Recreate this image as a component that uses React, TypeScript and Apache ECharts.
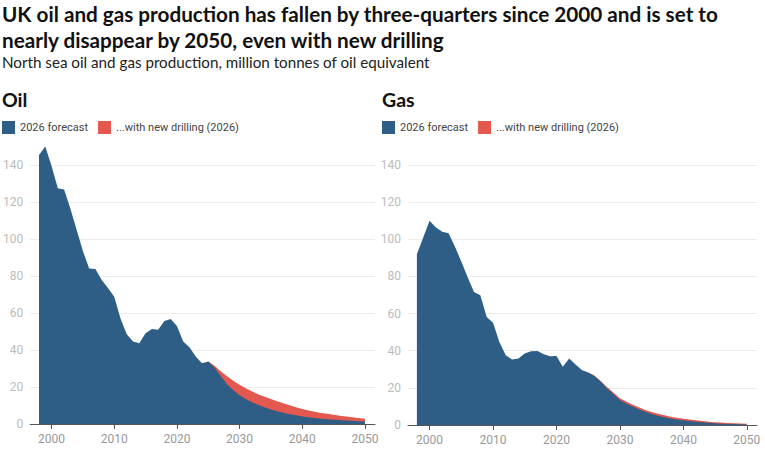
import { useEffect, useRef } from 'react';
import * as echarts from 'echarts';

const BLUE = '#2e5e86';
const RED = '#e4594f';

const FORECAST = '2026 forecast';
const DRILLING = '...with new drilling (2026)';

// 1998..2050
const years = Array.from({ length: 53 }, (_, i) => 1998 + i);
// 2025..2050
const drillYears = Array.from({ length: 26 }, (_, i) => 2025 + i);

const oilForecast = [
  145.4, 150, 139.5, 127.5, 126.8, 116.5, 105, 93.5, 84, 83.8, 77.8, 73.5, 68.8, 57,
  48.5, 44.6, 43.7, 49, 51.4, 50.9, 55.7, 56.8, 53, 44.6, 41.5, 36.5, 32.9, 33.8,
  30.5, 26, 21.5, 18.2, 15.5, 13.5, 11.8, 10.3, 9, 7.9, 6.9, 6.1, 5.3, 4.7, 4.1,
  3.6, 3.2, 2.9, 2.6, 2.3, 2.1, 1.9, 1.7, 1.5, 1.4,
];
const oilDrilling = [
  33.8, 31.5, 28.5, 25.8, 23.4, 21.2, 19.3, 17.6, 16.0, 14.7, 13.5, 12.3, 11.2,
  10.1, 9.1, 8.1, 7.3, 6.6, 6.0, 5.5, 5.0, 4.5, 4.0, 3.6, 3.2, 2.9,
];

const gasForecast = [
  92, 101, 110, 106.4, 104, 103.2, 96, 88, 79.5, 71.6, 69.8, 58.1, 55, 44.7, 37.6,
  35.3, 35.8, 38.5, 39.7, 39.9, 38.1, 37, 37.2, 31.3, 35.8, 32.6, 29.6, 28.3,
  26.4, 23.3, 19.7, 16.5, 13.4, 11.6, 9.9, 8.5, 7.1, 5.9, 5.0, 4.2, 3.5, 3.0, 2.6,
  2.2, 1.8, 1.5, 1.2, 0.9, 0.7, 0.6, 0.5, 0.4, 0.3,
];
const gasDrilling = [
  28.3, 26.5, 23.6, 20.3, 17.3, 14.4, 12.6, 10.9, 9.5, 8.1, 7.0, 6.0, 5.2, 4.5,
  3.9, 3.4, 2.9, 2.5, 2.1, 1.8, 1.5, 1.3, 1.1, 0.9, 0.8, 0.7,
];

const xTicks = [2000, 2010, 2020, 2030, 2040, 2050];

const TITLE =
  'UK oil and gas production has fallen by three-quarters since 2000 and is set to\nnearly disappear by 2050, even with new drilling';
const SUBTITLE = 'North sea oil and gas production, million tonnes of oil equivalent';

const HEAD_FONT = 'Lato';

const makeX = (gridIndex: number) => ({
  type: 'value' as const,
  gridIndex,
  min: 1996.6,
  max: 2051.6,
  axisLine: { lineStyle: { color: '#555', width: 1 } },
  axisTick: { show: true, length: 5, lineStyle: { color: '#555' }, customValues: xTicks },
  axisLabel: {
    customValues: xTicks,
    formatter: (v: number) => String(v),
    color: '#999',
    fontSize: 12,
    fontFamily: 'Roboto',
    margin: 9,
  },
  splitLine: { show: false },
});

const makeY = (gridIndex: number) => ({
  type: 'value' as const,
  gridIndex,
  min: 0,
  max: 140,
  interval: 20,
  axisLine: { show: false },
  axisTick: { show: false },
  axisLabel: { color: '#bbb', fontSize: 12, fontFamily: 'Roboto', margin: 7 },
  splitLine: { lineStyle: { color: '#ececec' } },
});

const area = (name: string, color: string, idx: number, data: number[][], z: number) => ({
  name,
  type: 'line' as const,
  xAxisIndex: idx,
  yAxisIndex: idx,
  data,
  symbol: 'none',
  clip: false,
  z,
  itemStyle: { color },
  lineStyle: { width: 0, color },
  areaStyle: { color, opacity: 1 },
});

const legend = (left: number) => ({
  left,
  top: 121,
  icon: 'rect',
  itemWidth: 13,
  itemHeight: 13,
  itemGap: 10,
  padding: 0,
  data: [FORECAST, DRILLING],
  textStyle: { fontSize: 11, color: '#444', fontFamily: 'Roboto' },
});

export default function App() {
  const chartRef = useRef<HTMLDivElement>(null);

  useEffect(() => {
    if (!chartRef.current) return;
    document.body.style.margin = '0';
    const chart = echarts.init(chartRef.current, undefined, { renderer: 'svg' });

    chart.setOption({
      animation: false,
      backgroundColor: '#fff',
      title: [
        {
          text: TITLE,
          left: 2,
          top: 1,
          padding: 0,
          textStyle: { fontSize: 20.7, fontWeight: 'bold', color: '#111', fontFamily: HEAD_FONT, lineHeight: 26 },
        },
        {
          text: SUBTITLE,
          left: 2,
          top: 54,
          padding: 0,
          textStyle: { fontSize: 15.2, fontWeight: 'normal', color: '#222', fontFamily: HEAD_FONT },
        },
        {
          text: 'Oil',
          left: 2,
          top: 89,
          padding: 0,
          textStyle: { fontSize: 19.5, fontWeight: 'bold', color: '#111', fontFamily: HEAD_FONT },
        },
        {
          text: 'Gas',
          left: 382,
          top: 89,
          padding: 0,
          textStyle: { fontSize: 19.5, fontWeight: 'bold', color: '#111', fontFamily: HEAD_FONT },
        },
      ],
      legend: [legend(2), legend(382)],
      grid: [
        { left: 27, right: 390, top: 165, bottom: 32 },
        { left: 408, right: 8, top: 165, bottom: 31 },
      ],
      xAxis: [makeX(0), makeX(1)],
      yAxis: [makeY(0), makeY(1)],
      series: [
        area(DRILLING, RED, 0, drillYears.map((y, i) => [y, oilDrilling[i]]), 2),
        area(FORECAST, BLUE, 0, years.map((y, i) => [y, oilForecast[i]]), 3),
        area(DRILLING, RED, 1, drillYears.map((y, i) => [y, gasDrilling[i]]), 2),
        area(FORECAST, BLUE, 1, years.map((y, i) => [y, gasForecast[i]]), 3),
      ],
    });

    return () => chart.dispose();
  }, []);

  return <div ref={chartRef} style={{ width: 765, height: 456 }} />;
}
